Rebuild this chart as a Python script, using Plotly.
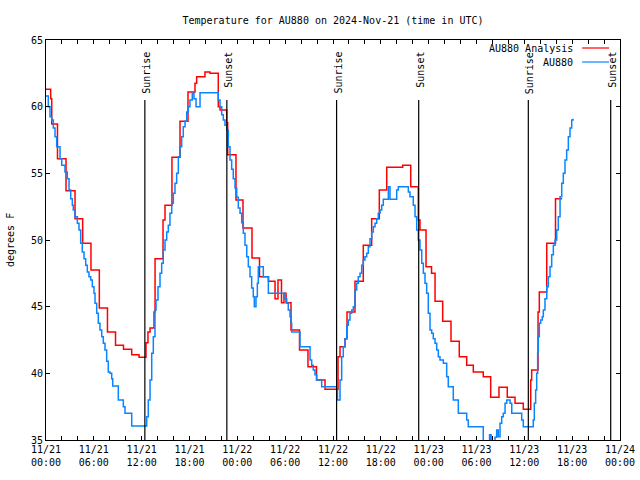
import pandas as pd
import plotly.graph_objects as go

BASE = pd.Timestamp("2024-11-21 00:00")

# AU880 Analysis (red) : hours since 11/21 00:00 UTC, temperature F
red_hours = [0.0, 0.59, 0.72, 1.44, 2.51, 3.64, 4.60, 5.64, 6.69, 7.71, 8.72, 9.72, 10.75,
             11.67, 12.54, 12.79, 13.05, 13.55, 13.68, 14.68, 14.93, 15.80, 16.81, 17.81,
             18.69, 18.90, 19.94, 20.57, 21.61, 21.83, 22.67, 22.79, 23.83, 24.71, 25.84,
             26.78, 27.91, 28.73, 29.10, 29.54, 29.85, 30.11, 30.73, 31.80, 32.86, 33.93,
             35.00, 36.63, 36.88, 37.51, 37.76, 38.76, 39.80, 40.85, 41.81, 42.74, 44.74,
             45.75, 46.70, 46.91, 47.67, 48.36, 48.80, 49.76, 50.80, 51.84, 52.77, 53.60,
             54.85, 55.78, 56.82, 57.86, 58.83, 59.87, 60.80, 60.92, 61.72, 61.88, 62.81,
             63.91, 64.73]
red_temps = [61.3, 60.6, 58.7, 56.1, 53.7, 51.6, 49.75, 47.75, 44.9, 43.1, 42.1, 41.8, 41.4,
             41.2, 42.3, 43.1, 43.4, 44.6, 48.6, 51.5, 52.6, 56.2, 58.9, 61.1,
             61.75, 62.25, 62.6, 62.5, 60.0, 59.75, 58.8, 56.4, 53.0, 50.9, 48.65,
             47.25, 46.9, 45.6, 47.0, 45.3, 46.0, 45.3, 43.25, 41.75, 40.5, 39.5,
             38.8, 41.25, 42.0, 42.6, 44.6, 46.9, 49.6, 51.6, 53.75, 55.45, 55.6,
             54.0, 51.5, 50.75, 48.0, 47.5, 45.4, 43.9, 42.4, 41.25, 40.6, 40.1,
             39.75, 38.2, 38.95, 38.2, 37.75, 37.3, 39.5, 40.25, 44.6, 46.1, 49.75,
             53.1, 53.1]

# AU880 observations (blue)
blue_hours = [0.00, 0.29, 0.50, 0.72, 0.92, 1.13, 1.34, 1.76, 1.97, 2.38, 2.67, 2.89, 3.10,
              3.30, 3.42, 3.64, 3.93, 4.14, 4.35, 4.55, 4.77, 4.98, 5.18, 5.39, 5.61, 5.81,
              6.02, 6.15, 6.36, 6.56, 6.77, 6.99, 7.19, 7.40, 7.61, 7.81, 8.03, 8.24, 8.37,
              9.07, 9.70, 9.91, 10.75, 12.63, 12.83, 13.05, 13.26, 13.46, 13.67, 13.80,
              14.05, 14.30, 14.51, 14.71, 14.93, 15.14, 15.34, 15.55, 15.77, 15.97, 16.18,
              16.39, 16.60, 16.81, 17.02, 17.22, 17.44, 17.65, 17.85, 18.06, 18.35, 18.56,
              18.82, 19.32, 21.61, 21.83, 22.04, 22.24, 22.45, 22.67, 22.87, 23.08, 23.29,
              23.49, 23.71, 23.92, 24.12, 24.34, 24.55, 24.75, 24.96, 25.18, 25.38, 25.59,
              25.80, 26.00, 26.13, 26.34, 26.51, 26.63, 27.26, 27.89, 29.98, 30.19, 30.39,
              30.61, 30.73, 30.82, 31.86, 33.12, 33.33, 33.53, 33.74, 33.96, 34.58, 36.46,
              36.56, 36.88, 37.09, 37.29, 37.51, 37.72, 37.92, 38.13, 38.35, 38.55, 38.76,
              38.97, 39.17, 39.39, 39.60, 39.80, 40.01, 40.23, 40.43, 40.64, 40.86, 41.06,
              41.27, 41.48, 41.68, 41.90, 42.11, 42.31, 42.94, 43.15, 43.99, 44.19, 45.45,
              45.66, 46.07, 46.29, 46.50, 46.70, 46.91, 47.13, 47.33, 47.54, 47.75, 47.95,
              48.17, 48.38, 48.58, 48.80, 49.01, 49.21, 49.42, 49.84, 50.26, 50.46, 51.09,
              51.72, 52.77, 52.97, 54.85, 55.64, 55.83, 56.32, 56.53, 56.73, 56.95, 57.16,
              57.36, 57.58, 57.79, 58.21, 58.42, 59.67, 59.87, 61.12, 61.25, 61.42, 61.55,
              61.67, 61.75, 61.88, 62.05, 62.25, 62.38, 62.59, 62.81, 63.01, 63.22, 63.43,
              63.64, 63.85, 64.06, 64.26, 64.48, 64.69, 64.89, 65.10, 65.31, 65.52, 65.73,
              65.94, 66.11]
blue_temps = [60.8, 60.0, 59.25, 59.0, 58.4, 57.75, 57.0, 56.1, 55.6, 55.1, 54.6, 53.75, 53.1,
              52.6, 52.25, 51.75, 51.25, 50.75, 49.75, 49.1, 48.6, 48.1, 47.6, 47.25, 47.0, 46.5,
              46.0, 45.25, 44.5, 43.75, 43.25, 42.75, 42.25, 41.75, 40.9, 40.1, 40.0, 39.6, 39.05,
              38.0, 37.5, 37.0, 36.05, 36.75, 38.0, 39.5, 41.5, 42.75, 44.75, 45.5,
              46.5, 47.5, 48.25, 49.25, 50.0, 50.6, 51.1, 52.0, 52.75, 53.5, 54.25,
              55.0, 56.25, 57.0, 57.75, 58.5, 58.9, 59.6, 60.0, 60.5, 61.0, 60.6,
              60.0, 61.05, 60.5, 60.0, 59.4, 59.0, 58.6, 58.25, 57.0, 56.0, 55.3,
              54.6, 53.9, 53.2, 52.4, 52.0, 51.3, 50.5, 49.6, 48.75, 48.0, 47.25,
              46.4, 45.75, 45.0, 45.75, 46.75, 48.0, 47.25, 46.0, 45.6, 45.25, 44.75,
              44.25, 43.75, 43.1, 42.0, 41.0, 40.6, 40.25, 39.9, 39.5, 39.0, 38.75,
              38.0, 39.5, 41.25, 42.0, 42.6, 43.6, 44.0, 44.5, 44.75, 45.0, 46.25,
              46.75, 47.25, 47.5, 48.1, 48.5, 48.75, 49.0, 49.5, 50.1, 50.6, 51.0,
              51.25, 51.6, 52.0, 52.25, 52.6, 53.05, 54.0, 53.05, 53.75, 54.0, 53.6,
              53.25, 52.6, 51.75, 50.75, 50.0, 49.25, 48.25, 47.5, 46.75, 46.0, 44.5,
              43.25, 43.0, 42.6, 42.25, 41.75, 41.25, 41.0, 40.75, 39.75, 39.0, 38.0,
              37.0, 36.5, 36.0, 34.5, 35.4, 34.5, 35.2, 35.75, 35.25, 36.25, 36.75,
              37.0, 37.75, 38.0, 37.75, 37.0, 36.5, 36.0, 36.5, 37.75, 38.75, 40.0,
              41.5, 42.75, 43.75, 44.0, 44.25, 44.75, 45.6, 46.5, 47.25, 48.0, 48.9,
              49.6, 50.0, 50.75, 51.75, 53.25, 54.25, 55.0, 56.0, 56.75, 57.75, 58.4,
              59.0, 59.1]

sunrise_times = ["2024-11-21 12:24", "2024-11-22 12:27", "2024-11-23 12:30"]
sunset_times = ["2024-11-21 22:41", "2024-11-22 22:45", "2024-11-23 22:50"]

FONT = "DejaVu Sans Mono"

red_x = BASE + pd.to_timedelta(red_hours, unit="h")
blue_x = BASE + pd.to_timedelta(blue_hours, unit="h")

fig = go.Figure()
fig.add_trace(go.Scatter(x=red_x, y=red_temps, mode="lines", line=dict(color="#ff0000", width=1.5, shape="hv"),
                         name="AU880 Analysis", showlegend=False))
fig.add_trace(go.Scatter(x=blue_x, y=blue_temps, mode="lines", line=dict(color="#0a84ff", width=1.5, shape="hv"),
                         name="AU880", showlegend=False))

shapes = []
annotations = []
for label, times in (("Sunrise", sunrise_times), ("Sunset", sunset_times)):
    for t in times:
        shapes.append(dict(type="line", xref="x", yref="paper", x0=t, x1=t, y0=0, y1=0.85,
                           line=dict(color="black", width=1.2)))
        annotations.append(dict(x=t, xref="x", y=0.975, yref="paper", text=label, textangle=-90,
                                showarrow=False, yanchor="top", xanchor="center", xshift=1,
                                font=dict(family=FONT, size=10, color="black")))

# legend (gnuplot style: text then line sample)
leg = [("AU880 Analysis", "#ff0000", 0.98), ("AU880", "#0a84ff", 0.945)]
for text, col, yy in leg:
    annotations.append(dict(x=0.9216, xref="paper", y=yy, yref="paper", text=text, showarrow=False,
                            xanchor="right", yanchor="middle", font=dict(family=FONT, size=10, color="black")))
    shapes.append(dict(type="line", xref="paper", yref="paper", x0=0.934, x1=0.981, y0=yy, y1=yy,
                       line=dict(color=col, width=1.2)))

annotations.append(dict(x=0, xref="paper", xshift=-36, y=0.5, yref="paper", text="degrees F", textangle=-90,
                        showarrow=False, xanchor="center", yanchor="middle",
                        font=dict(family=FONT, size=10, color="black")))

fig.update_layout(
    width=640, height=480,
    margin=dict(l=46, r=20, t=40, b=40, autoexpand=False),
    paper_bgcolor="white", plot_bgcolor="white",
    font=dict(family=FONT, size=10, color="black"),
    title=dict(text="Temperature for AU880 on 2024-Nov-21 (time in UTC)", x=0.5, xref="paper",
               y=1 - 20 / 480, yref="container", xanchor="center", yanchor="middle",
               font=dict(family=FONT, size=10, color="black")),
    shapes=shapes, annotations=annotations,
    showlegend=False,
)
fig.update_xaxes(
    range=["2024-11-21 00:00", "2024-11-24 00:00"],
    tickmode="linear", tick0="2024-11-21 00:00", dtick=6 * 3600000,
    tickformat="%m/%d<br>%H:%M",
    ticks="inside", ticklen=4, tickcolor="black",
    minor=dict(dtick=2 * 3600000, ticks="inside", ticklen=4, tickcolor="black", showgrid=False),
    showline=True, linecolor="black", linewidth=1, mirror="ticks",
    showgrid=False, zeroline=False, automargin=False,
    tickfont=dict(family=FONT, size=10, color="black"),
)
fig.update_yaxes(
    range=[35, 65], tickmode="linear", tick0=35, dtick=5,
    ticks="inside", ticklen=4, tickcolor="black",
    showline=True, linecolor="black", linewidth=1, mirror="ticks",
    showgrid=False, zeroline=False, automargin=False,
    tickfont=dict(family=FONT, size=10, color="black"),
)

fig.write_html("out.html")
